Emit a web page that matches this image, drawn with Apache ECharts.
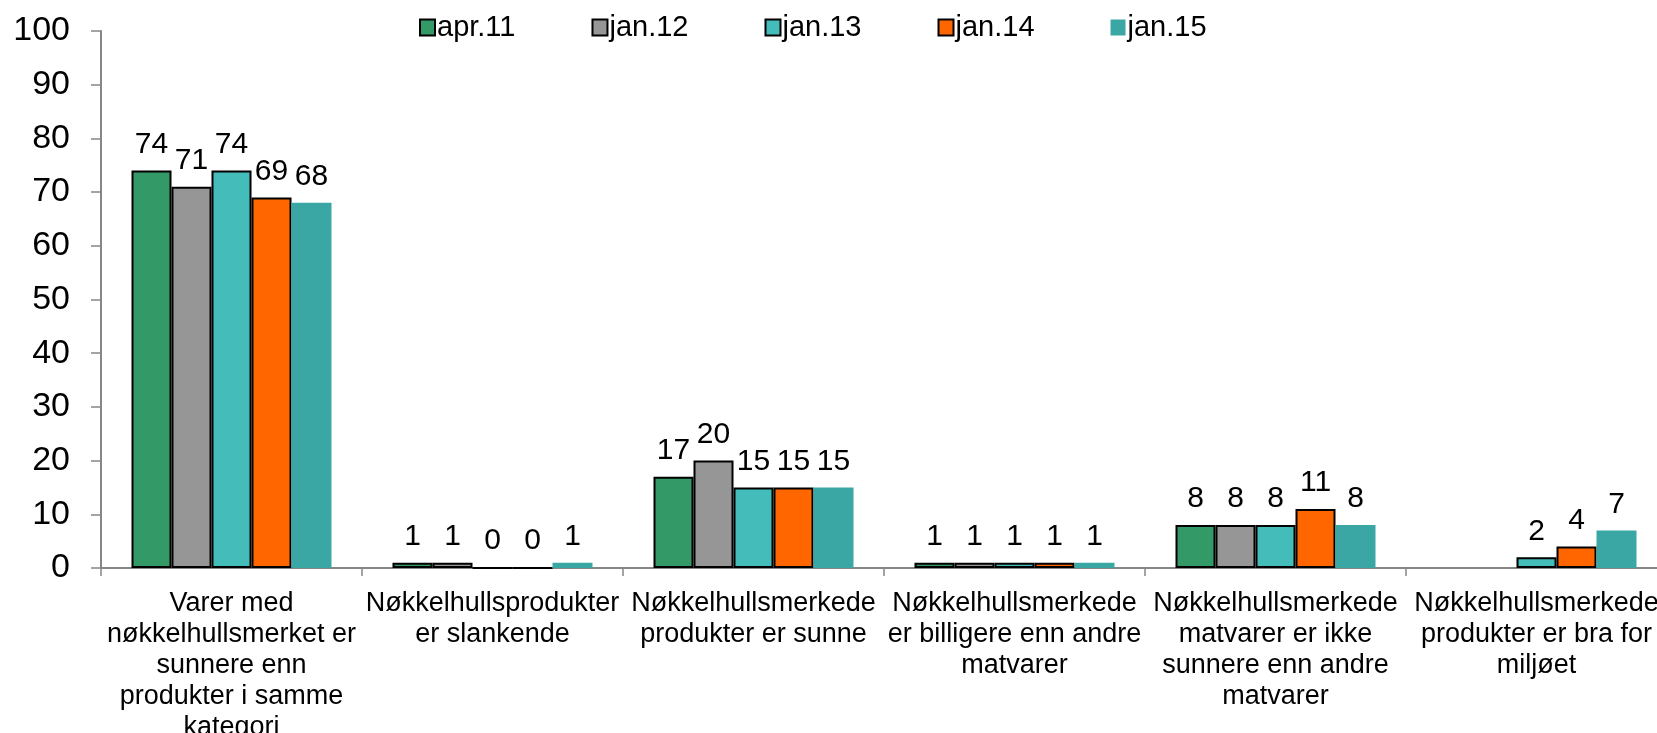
<!DOCTYPE html>
<html>
<head>
<meta charset="utf-8">
<script src="https://cdn.jsdelivr.net/npm/echarts@6/dist/echarts.min.js"></script>
<style>
html,body{margin:0;padding:0;background:#fff;}
#chart{width:1657px;height:733px;}
</style>
</head>
<body>
<div id="chart"></div>
<script>
var categories = [
  "Varer med\nnøkkelhullsmerket er\nsunnere enn\nprodukter i samme\nkategori",
  "Nøkkelhullsprodukter\ner slankende",
  "Nøkkelhullsmerkede\nprodukter er sunne",
  "Nøkkelhullsmerkede\ner billigere enn andre\nmatvarer",
  "Nøkkelhullsmerkede\nmatvarer er ikke\nsunnere enn andre\nmatvarer",
  "Nøkkelhullsmerkede\nprodukter er bra for\nmiljøet"
];
var seriesNames = ["apr.11", "jan.12", "jan.13", "jan.14", "jan.15"];
var apr11 = [74, 1, 17, 1, 8, null];
var jan12 = [71, 1, 20, 1, 8, null];
var jan13 = [74, 0, 15, 1, 8, 2];
var jan14 = [69, 0, 15, 1, 11, 4];
var jan15 = [68, 1, 15, 1, 8, 7];
var yTicks = [0, 10, 20, 30, 40, 50, 60, 70, 80, 90, 100];

var colors = ["#339966", "#969696", "#44BDBA", "#FF6600", "#3AA7A5"];
var bordered = [true, true, true, true, false];
var allData = [apr11, jan12, jan13, jan14, jan15];
var FONT = '"Liberation Sans", Arial, sans-serif';

var chart = echarts.init(document.getElementById('chart'));
var series = seriesNames.map(function (name, i) {
  return {
    name: name,
    type: 'bar',
    data: allData[i],
    barWidth: 40,
    barGap: '0%',
    itemStyle: {
      color: colors[i],
      borderColor: bordered[i] ? '#000' : colors[i],
      borderWidth: bordered[i] ? 2 : 0
    },
    label: {
      show: true,
      position: 'top',
      distance: 11,
      color: '#000',
      fontSize: 30,
      fontFamily: FONT
    },
    animation: false
  };
});

chart.setOption({
  animation: false,
  backgroundColor: '#fff',
  legend: {
    data: seriesNames.map(function (n, i) {
      return { name: n, itemStyle: { borderColor: bordered[i] ? '#000' : colors[i], borderWidth: bordered[i] ? 2 : 0 } };
    }),
    left: 414,
    top: 8,
    itemWidth: 15,
    itemHeight: 16,
    itemGap: 76,
    icon: 'rect',
    textStyle: { fontSize: 29, color: '#000', fontFamily: FONT, padding: [0, 0, 0, -3] }
  },
  grid: { left: 101, right: -10, top: 31, bottom: 165, containLabel: false, outerBoundsMode: 'none' },
  xAxis: {
    type: 'category',
    data: categories,
    axisLine: { lineStyle: { color: '#868686', width: 2 } },
    axisTick: { show: true, length: 8, lineStyle: { color: '#868686', width: 1.5 } },
    axisLabel: {
      interval: 0,
      margin: 20,
      color: '#000',
      fontSize: 27,
      lineHeight: 31,
      fontFamily: FONT,
      align: 'center'
    }
  },
  yAxis: {
    type: 'value',
    min: yTicks[0],
    max: yTicks[yTicks.length - 1],
    interval: 10,
    splitLine: { show: false },
    axisLine: { show: true, lineStyle: { color: '#868686', width: 2 } },
    axisTick: { show: true, length: 10, lineStyle: { color: '#868686', width: 1.5 } },
    axisLabel: { margin: 31, color: '#000', fontSize: 34, fontFamily: FONT }
  },
  series: series
});
</script>
</body>
</html>
